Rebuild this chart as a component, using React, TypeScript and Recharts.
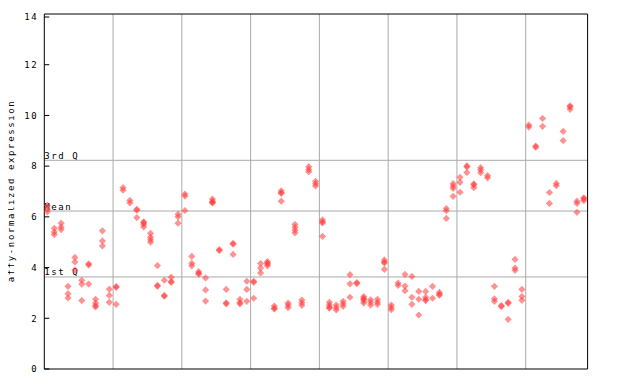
import React from 'react';
import { ScatterChart, Scatter, XAxis, YAxis, ReferenceLine } from 'recharts';

// expression values per sample (replicates), grouped by the 8 sample groups
const group1: number[][] = [
  [6.45, 6.3, 6.2], [5.55, 5.4, 5.3], [5.75, 5.6, 5.5], [3.26, 2.97, 2.8], [4.4, 4.22, 3.9],
  [3.5, 3.35, 2.7], [4.15, 4.1, 3.35], [2.75, 2.6, 2.5, 2.45], [5.45, 5.05, 4.85], [3.15, 2.9, 2.63],
];
const group2: number[][] = [
  [3.25, 3.22, 2.55], [7.15, 7.05], [6.65, 6.55], [6.3, 6.26, 5.97], [5.8, 5.77, 5.7, 5.6],
  [5.35, 5.2, 5.1, 5.0], [4.08, 3.3, 3.26], [3.5, 2.9, 2.87], [3.62, 3.45, 3.42], [6.1, 6.0, 5.75],
];
const group3: number[][] = [
  [6.9, 6.82, 6.25], [4.44, 4.17, 4.07], [3.84, 3.78, 3.74], [3.59, 3.12, 2.68], [6.7, 6.62, 6.57, 6.55],
  [4.71, 4.67], [3.14, 2.61, 2.57], [4.96, 4.92, 4.52], [2.75, 2.62, 2.57], [3.46, 3.14, 2.67],
];
const group4: number[][] = [
  [3.46, 3.42, 2.79], [4.16, 3.98, 3.79], [4.24, 4.18, 4.14, 4.07], [2.48, 2.4, 2.37], [7.03, 6.95, 6.93, 6.62],
  [2.6, 2.51, 2.42], [5.7, 5.59, 5.48, 5.37], [2.72, 2.61, 2.51], [7.98, 7.87, 7.78], [7.4, 7.31, 7.22],
];
const group5: number[][] = [
  [5.88, 5.8, 5.76, 5.23], [2.63, 2.52, 2.44, 2.4], [2.52, 2.42, 2.33], [2.67, 2.57, 2.47], [3.72, 3.36, 2.83],
  [3.41, 3.37], [2.86, 2.79, 2.75, 2.69, 2.6], [2.73, 2.63, 2.52], [2.75, 2.64, 2.55], [4.3, 4.22, 4.18, 3.93],
];
const group6: number[][] = [
  [2.52, 2.43, 2.34], [3.39, 3.3], [3.73, 3.27, 3.09], [3.65, 2.83, 2.55], [3.06, 2.75, 2.13],
  [3.06, 2.83, 2.74, 2.7], [3.26, 2.79], [3.02, 2.95, 2.91], [6.33, 6.24, 5.94], [7.31, 7.21, 7.12, 6.81],
];
const group7: number[][] = [
  [7.56, 7.36, 6.97], [8.01, 7.97, 7.75], [7.3, 7.26, 7.15], [7.94, 7.85, 7.74], [7.63, 7.54],
  [3.26, 2.77, 2.67], [2.5, 2.46], [2.63, 2.59, 1.96], [4.32, 3.98, 3.89], [3.14, 2.86, 2.71],
];
const group8: number[][] = [
  [9.62, 9.54], [8.79, 8.75], [9.88, 9.57], [6.96, 6.53], [7.32, 7.23],
  [9.37, 9.01], [10.38, 10.34, 10.24], [6.62, 6.53, 6.18], [6.75, 6.71, 6.64],
];

const groupBoundaries = [10, 20, 30, 40, 50, 60, 70];
const yTicks = [0, 2, 4, 6, 8, 10, 12, 14];
const quartiles = [
  { label: '3rd Q', value: 8.23 },
  { label: 'Mean', value: 6.23 },
  { label: '1st Q', value: 3.63 },
];
const sampleCount = 79;

const allSamples = [...group1, ...group2, ...group3, ...group4, ...group5, ...group6, ...group7, ...group8];
const points = allSamples.flatMap((vals, i) => vals.map((v) => ({ x: i + 0.45, y: v })));

const FONT = 'DejaVu Sans Mono, monospace';
const FS = 9;
const LS = 1.6;

const Diamond = (props: any) => {
  const { cx, cy } = props;
  const r = 3.6;
  return (
    <polygon
      points={`${cx},${cy - r} ${cx + r},${cy} ${cx},${cy + r} ${cx - r},${cy}`}
      fill="#ff3b3b"
      fillOpacity={0.55}
    />
  );
};

const LeftTick = (props: any) => {
  const { x, y, payload } = props;
  return (
    <g>
      <line x1={x} x2={x + 5} y1={y} y2={y} stroke="#000" />
      <text
        x={x - 6}
        y={y + 3.3}
        textAnchor="end"
        fontFamily={FONT}
        fontSize={FS}
        letterSpacing={LS}
        fill="#000"
      >
        {payload.value}
      </text>
    </g>
  );
};

const RightTick = (props: any) => {
  const { x, y } = props;
  return <line x1={x - 5} x2={x} y1={y} y2={y} stroke="#000" />;
};

export default function App() {
  return (
    <div style={{ position: 'relative', width: 624, height: 376 }}>
      <ScatterChart
        width={624}
        height={376}
        margin={{ top: 6, left: 35.3, right: 43.4, bottom: 14 }}
      >
        <XAxis
          type="number"
          dataKey="x"
          domain={[0, sampleCount]}
          height={1}
          tick={false}
          tickLine={false}
          axisLine={{ stroke: '#000' }}
        />
        <YAxis
          type="number"
          dataKey="y"
          domain={[0, 14]}
          ticks={yTicks}
          width={1}
          tickSize={0}
          tickMargin={0}
          tick={<LeftTick />}
          axisLine={{ stroke: '#000' }}
        />
        <YAxis
          yAxisId="r"
          orientation="right"
          type="number"
          domain={[0, 14]}
          ticks={yTicks}
          width={1}
          tickSize={0}
          tickMargin={0}
          tick={<RightTick />}
          axisLine={{ stroke: '#000' }}
        />
        {groupBoundaries.map((b) => (
          <ReferenceLine key={b} x={b} stroke="#aaaaaa" strokeWidth={1} />
        ))}
        {quartiles.map((q) => (
          <ReferenceLine
            key={q.label}
            y={q.value}
            stroke="#aaaaaa"
            strokeWidth={1}
            label={{
              content: (p: any) => (
                <text
                  x={p.viewBox.x}
                  y={p.viewBox.y - 1.5}
                  fontFamily={FONT}
                  fontSize={FS}
                  letterSpacing={LS}
                  fill="#000"
                >
                  {q.label}
                </text>
              ),
            }}
          />
        ))}
        <ReferenceLine y={14} stroke="#000" strokeWidth={1} />
        <Scatter data={points} shape={<Diamond />} isAnimationActive={false} />
      </ScatterChart>
      <svg
        width={24}
        height={376}
        style={{ position: 'absolute', left: -8, top: 0, pointerEvents: 'none' }}
      >
        <text
          x={0}
          y={0}
          transform="translate(14,183) rotate(-90)"
          textAnchor="middle"
          fontFamily={FONT}
          fontSize={FS}
          letterSpacing={LS}
          fill="#000"
        >
          affy-normalized expression
        </text>
      </svg>
    </div>
  );
}
